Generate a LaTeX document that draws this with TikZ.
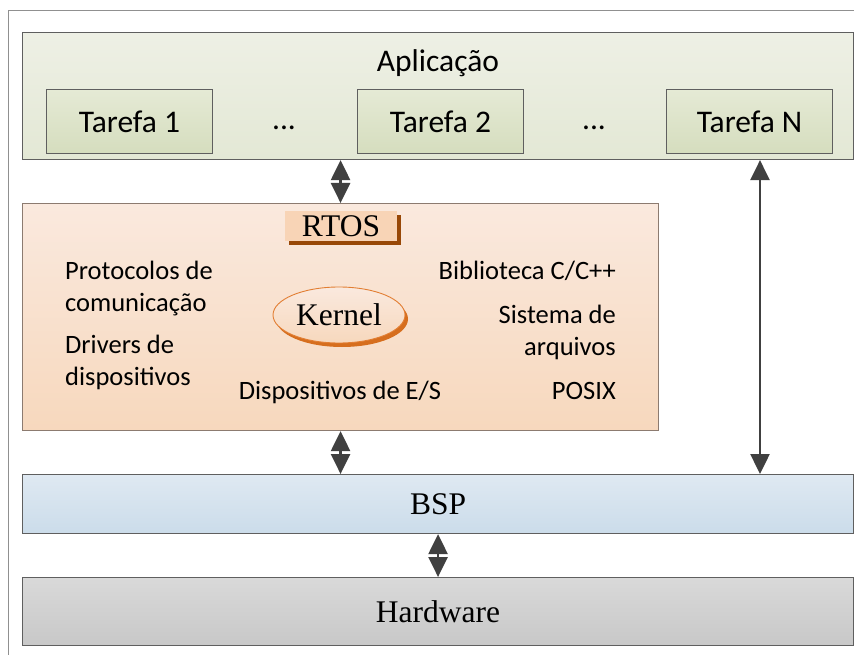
\documentclass[tikz,border=0pt]{standalone}
\usepackage{fontspec}
\setmainfont{Carlito}
\newfontfamily\tmsfont{Liberation Serif}
\usetikzlibrary{arrows.meta,shadows,shapes.geometric}
\definecolor{framecol}{HTML}{909090}
\definecolor{bordercol}{HTML}{5F5F5F}
\definecolor{appT}{HTML}{EEF0E5}
\definecolor{appB}{HTML}{E3E8D5}
\definecolor{taskT}{HTML}{E5EAD5}
\definecolor{taskB}{HTML}{D5DDBE}
\definecolor{rtosT}{HTML}{FAE9DE}
\definecolor{rtosB}{HTML}{F7D8BD}
\definecolor{rtosBorder}{HTML}{8C7B70}
\definecolor{bspT}{HTML}{DFE9F2}
\definecolor{bspB}{HTML}{CBDCEA}
\definecolor{hwT}{HTML}{D9D9D9}
\definecolor{hwB}{HTML}{C8C8C8}
\definecolor{labfill}{HTML}{F8D4B6}
\definecolor{labshadow}{HTML}{984807}
\definecolor{kline}{HTML}{E27E33}
\definecolor{kshadow}{HTML}{D66E1E}
\definecolor{arrowcol}{HTML}{404040}
\tikzset{
  layer/.style={draw=bordercol, line width=1.1pt, anchor=north west, inner sep=0pt},
  taskbox/.style={layer, top color=taskT, bottom color=taskB, minimum width=166pt, minimum height=64pt,
    font=\fontsize{31.5}{37}\selectfont},
  sanslg/.style={font=\fontsize{31.5}{37}\selectfont, inner sep=0pt},
  sanssm/.style={font=\fontsize{26.5}{32}\selectfont, inner sep=0pt},
  serif/.style={font=\tmsfont\fontsize{31.5}{37}\selectfont},
  dblarrow/.style={{Triangle[width=19pt,length=20pt]}-{Triangle[width=19pt,length=20pt]}, line width=2.5pt, draw=arrowcol}
}
\begin{document}
\begin{tikzpicture}[x=1pt,y=-1pt]
\useasboundingbox (0,0) rectangle (854,655);
\fill[white] (0,0) rectangle (854,655);
\draw[framecol, line width=1pt] (8.5,700) -- (8.5,10.5) -- (900,10.5);

% Application layer
\node[layer, top color=appT, bottom color=appB, minimum width=831pt, minimum height=127pt] (app) at (22,32) {};
\node[sanslg, anchor=base] (aplic) at (438,72) {Aplicação};
\node[taskbox] (t1) at (46,89) {Tarefa 1};
\node[taskbox] (t2) at (357,89) {Tarefa 2};
\node[taskbox] (tn) at (666,89) {Tarefa N};
\node[sanslg, anchor=base] (dots1) at (284,130) {...};
\node[sanslg, anchor=base] (dots2) at (594,130) {...};

% RTOS layer
\node[layer, draw=rtosBorder, top color=rtosT, bottom color=rtosB, minimum width=636pt, minimum height=227pt] (rtos) at (22,203) {};
\node[serif, fill=labfill, minimum width=112pt, minimum height=30pt, inner sep=0pt,
  drop shadow={fill=labshadow, opacity=1, shadow xshift=4pt, shadow yshift=-4pt}] (rtoslbl) at (341,226) {RTOS};
\node[serif, ellipse, draw=kline, line width=0.9pt, top color=rtosT, bottom color=rtosB,
  minimum width=132pt, minimum height=56pt, inner sep=0pt,
  drop shadow={fill=kshadow, opacity=1, shadow xshift=3pt, shadow yshift=-4pt}] (kernel) at (339,315) {Kernel};

\node[sanssm, anchor=base west] (prot1) at (65,279) {Protocolos de};
\node[sanssm, anchor=base west] (prot2) at (65,311) {comunicação};
\node[sanssm, anchor=base west] (drv1) at (65,353) {Drivers de};
\node[sanssm, anchor=base west] (drv2) at (65,385) {dispositivos};
\node[sanssm, anchor=base] (dispes) at (340,399) {Dispositivos de E/S};
\node[sanssm, anchor=base east] (bib) at (616,279) {Biblioteca C/C++};
\node[sanssm, anchor=base east] (sis1) at (616,323) {Sistema de};
\node[sanssm, anchor=base east] (sis2) at (616,355) {arquivos};
\node[sanssm, anchor=base east] (posix) at (616,399) {POSIX};

% BSP and Hardware
\node[layer, serif, top color=bspT, bottom color=bspB, minimum width=831pt, minimum height=59pt] (bsp) at (22,474) {BSP};
\node[layer, serif, top color=hwT, bottom color=hwB, minimum width=831pt, minimum height=68pt] (hw) at (22,577) {Hardware};

% Connectors
\coordinate (ncol) at (760,0);
\draw[dblarrow] (app.south -| rtos.north) -- (rtos.north);
\draw[dblarrow] (rtos.south) -- (bsp.north -| rtos.south);
\draw[dblarrow] (bsp.south -| hw.north) -- (hw.north);
\draw[dblarrow] (app.south -| ncol) -- (bsp.north -| ncol);
\end{tikzpicture}
\end{document}
